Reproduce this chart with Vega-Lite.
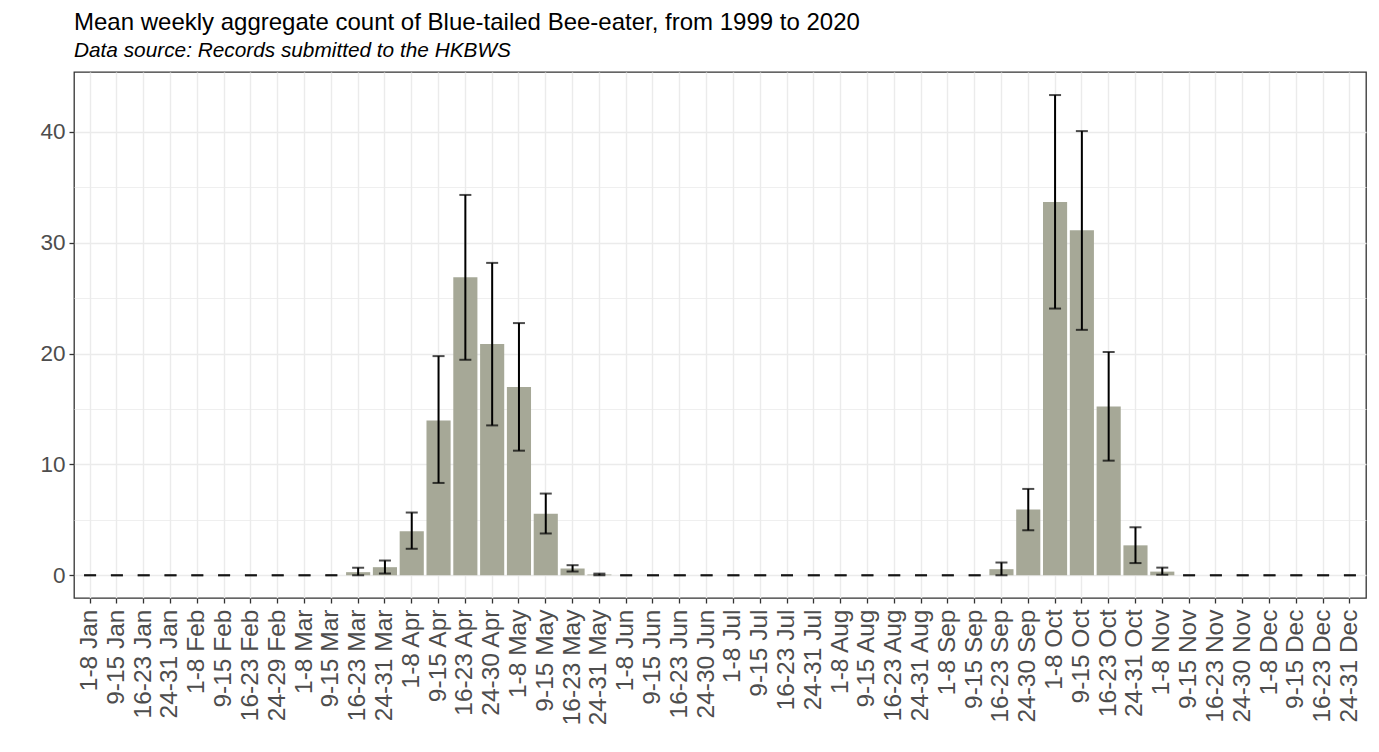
{
  "$schema": "https://vega.github.io/schema/vega-lite/v6.json",
  "autosize": "none",
  "width": 1292,
  "height": 526,
  "padding": {"left": 74, "top": 72, "right": 13, "bottom": 154},
  "background": "white",
  "config": {
    "font": "Liberation Sans",
    "view": {"stroke": "#333333", "strokeWidth": 1.3},
    "axis": {
      "labelFont": "Liberation Sans",
      "labelFontSize": 22.5,
      "labelColor": "#4d4d4d",
      "tickColor": "#333333",
      "tickSize": 5,
      "tickWidth": 1.3,
      "domain": false,
      "gridColor": "#ebebeb",
      "gridWidth": 1.4,
      "title": null
    },
    "title": {
      "anchor": "start",
      "frame": "group",
      "font": "Liberation Sans",
      "fontSize": 24,
      "fontWeight": "normal",
      "color": "#000000",
      "subtitleFont": "Liberation Sans",
      "subtitleFontSize": 20.8,
      "subtitleFontStyle": "italic",
      "subtitleColor": "#000000",
      "subtitlePadding": 6,
      "offset": 11
    }
  },
  "title": {
    "text": "Mean weekly aggregate count of Blue-tailed Bee-eater, from 1999 to 2020",
    "subtitle": "Data source: Records submitted to the HKBWS"
  },
  "data": {
    "values": [
      {"week": "1-8 Jan", "mean": 0, "lo": 0, "hi": 0},
      {"week": "9-15 Jan", "mean": 0, "lo": 0, "hi": 0},
      {"week": "16-23 Jan", "mean": 0, "lo": 0, "hi": 0},
      {"week": "24-31 Jan", "mean": 0, "lo": 0, "hi": 0},
      {"week": "1-8 Feb", "mean": 0, "lo": 0, "hi": 0},
      {"week": "9-15 Feb", "mean": 0, "lo": 0, "hi": 0},
      {"week": "16-23 Feb", "mean": 0, "lo": 0, "hi": 0},
      {"week": "24-29 Feb", "mean": 0, "lo": 0, "hi": 0},
      {"week": "1-8 Mar", "mean": 0, "lo": 0, "hi": 0},
      {"week": "9-15 Mar", "mean": 0, "lo": 0, "hi": 0},
      {"week": "16-23 Mar", "mean": 0.28, "lo": 0, "hi": 0.68},
      {"week": "24-31 Mar", "mean": 0.73, "lo": 0.16, "hi": 1.33},
      {"week": "1-8 Apr", "mean": 3.97, "lo": 2.39, "hi": 5.66},
      {"week": "9-15 Apr", "mean": 13.97, "lo": 8.33, "hi": 19.77},
      {"week": "16-23 Apr", "mean": 26.89, "lo": 19.44, "hi": 34.31},
      {"week": "24-30 Apr", "mean": 20.86, "lo": 13.52, "hi": 28.18},
      {"week": "1-8 May", "mean": 16.98, "lo": 11.24, "hi": 22.75},
      {"week": "9-15 May", "mean": 5.54, "lo": 3.77, "hi": 7.37},
      {"week": "16-23 May", "mean": 0.61, "lo": 0.34, "hi": 0.91},
      {"week": "24-31 May", "mean": 0.06, "lo": 0, "hi": 0.15},
      {"week": "1-8 Jun", "mean": 0, "lo": 0, "hi": 0},
      {"week": "9-15 Jun", "mean": 0, "lo": 0, "hi": 0},
      {"week": "16-23 Jun", "mean": 0, "lo": 0, "hi": 0},
      {"week": "24-30 Jun", "mean": 0, "lo": 0, "hi": 0},
      {"week": "1-8 Jul", "mean": 0, "lo": 0, "hi": 0},
      {"week": "9-15 Jul", "mean": 0, "lo": 0, "hi": 0},
      {"week": "16-23 Jul", "mean": 0, "lo": 0, "hi": 0},
      {"week": "24-31 Jul", "mean": 0, "lo": 0, "hi": 0},
      {"week": "1-8 Aug", "mean": 0, "lo": 0, "hi": 0},
      {"week": "9-15 Aug", "mean": 0, "lo": 0, "hi": 0},
      {"week": "16-23 Aug", "mean": 0, "lo": 0, "hi": 0},
      {"week": "24-31 Aug", "mean": 0, "lo": 0, "hi": 0},
      {"week": "1-8 Sep", "mean": 0, "lo": 0, "hi": 0},
      {"week": "9-15 Sep", "mean": 0, "lo": 0, "hi": 0},
      {"week": "16-23 Sep", "mean": 0.55, "lo": 0, "hi": 1.15},
      {"week": "24-30 Sep", "mean": 5.93, "lo": 4.06, "hi": 7.79},
      {"week": "1-8 Oct", "mean": 33.68, "lo": 24.06, "hi": 43.32},
      {"week": "9-15 Oct", "mean": 31.13, "lo": 22.14, "hi": 40.07},
      {"week": "16-23 Oct", "mean": 15.23, "lo": 10.34, "hi": 20.14},
      {"week": "24-31 Oct", "mean": 2.7, "lo": 1.1, "hi": 4.33},
      {"week": "1-8 Nov", "mean": 0.33, "lo": 0.05, "hi": 0.69},
      {"week": "9-15 Nov", "mean": 0, "lo": 0, "hi": 0},
      {"week": "16-23 Nov", "mean": 0, "lo": 0, "hi": 0},
      {"week": "24-30 Nov", "mean": 0, "lo": 0, "hi": 0},
      {"week": "1-8 Dec", "mean": 0, "lo": 0, "hi": 0},
      {"week": "9-15 Dec", "mean": 0, "lo": 0, "hi": 0},
      {"week": "16-23 Dec", "mean": 0, "lo": 0, "hi": 0},
      {"week": "24-31 Dec", "mean": 0, "lo": 0, "hi": 0}
    ]
  },
  "encoding": {
    "x": {
      "field": "week",
      "type": "nominal",
      "sort": null,
      "scale": {"paddingInner": 0.1, "paddingOuter": 0.15},
      "axis": {
        "labelAngle": -90,
        "labelAlign": "right",
        "labelBaseline": "middle",
        "labelPadding": 6,
        "labelFontSize": 24.5,
        "grid": true
      }
    }
  },
  "layer": [
    {
      "mark": {"type": "bar", "color": "#a6a897"},
      "encoding": {
        "y": {
          "field": "mean",
          "type": "quantitative",
          "scale": {"domain": [-2.05, 45.4], "nice": false, "zero": false},
          "axis": {
            "values": [0, 5, 10, 15, 20, 25, 30, 35, 40],
            "labelExpr": "datum.value % 10 === 0 ? datum.label : ''",
            "labelPadding": 4,
            "gridWidth": {"condition": {"test": "datum.value % 10 !== 0", "value": 0.8}, "value": 1.4},
            "tickOpacity": {"condition": {"test": "datum.value % 10 !== 0", "value": 0}, "value": 1}
          }
        }
      }
    },
    {
      "mark": {"type": "rule", "color": "#000000", "strokeWidth": 2},
      "encoding": {
        "y": {"field": "lo", "type": "quantitative"},
        "y2": {"field": "hi"}
      }
    },
    {
      "mark": {"type": "tick", "color": "#000000", "size": 12, "thickness": 2},
      "encoding": {"y": {"field": "lo", "type": "quantitative"}}
    },
    {
      "mark": {"type": "tick", "color": "#000000", "size": 12, "thickness": 2},
      "encoding": {"y": {"field": "hi", "type": "quantitative"}}
    }
  ]
}
